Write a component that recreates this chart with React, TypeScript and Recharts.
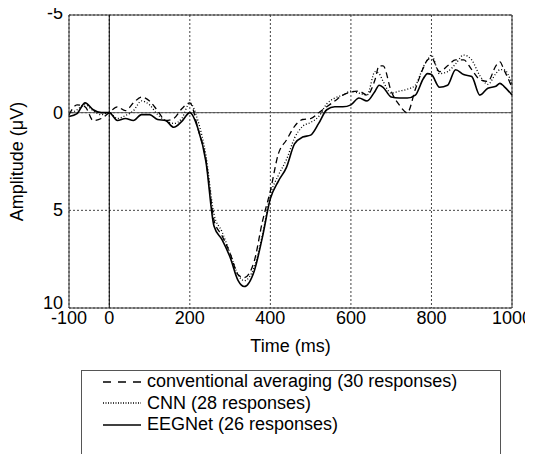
import { CartesianGrid, Line, LineChart, ReferenceLine, XAxis, YAxis } from 'recharts';

// time axis (ms) shared by the three averaged responses
const times = [
  -100, -80, -60, -40, -20, 0, 20, 40, 60, 80, 100, 120, 140, 160, 180, 200, 220, 240, 260, 280,
  300, 320, 335, 360, 380, 400, 420, 440, 460, 480, 500, 520, 540, 560, 580, 600, 620, 640, 660,
  670, 680, 700, 720, 740, 760, 780, 790, 800, 820, 840, 860, 880, 900, 920, 940, 960, 970, 980, 1000,
];

// amplitudes in μV (axis is drawn negative-up)
const conventional = [
  0.1, -0.4, -0.3, 0.4, 0.3, 0.0, -0.3, -0.1, -0.5, -0.8, -0.6, -0.1, 0.4, 0.3, -0.2, -0.5, 0.8, 2.4, 5.5, 6.3,
  7.2, 8.3, 8.45, 7.6, 5.6, 4.0, 2.1, 1.4, 0.7, 0.35, 0.3, 0.0, -0.3, -0.6, -0.9, -1.05, -1.1, -0.9, -1.7,
  -2.4, -2.4, -1.1, -0.4, 0.0, -1.2, -2.3, -2.7, -2.8, -2.1, -2.4, -2.7, -2.7, -2.2, -1.7, -1.6, -2.4, -2.6, -2.2, -1.3,
];
const cnn = [
  0.1, -0.15, -0.4, -0.1, 0.1, 0.0, 0.3, 0.15, -0.1, -0.6, -0.4, 0.1, 0.4, 0.55, 0.3, -0.5, 0.4, 2.2, 5.2, 6.1,
  7.2, 8.3, 8.6, 7.9, 6.3, 4.2, 3.2, 2.4, 1.3, 0.7, 0.5, 0.2, -0.45, -0.75, -0.9, -1.1, -1.0, -0.9, -2.1,
  -2.0, -1.6, -1.0, -1.1, -1.2, -1.4, -2.35, -2.7, -2.95, -2.0, -2.1, -2.5, -2.95, -2.7, -1.9, -1.45, -2.0, -2.2, -2.2, -1.45,
];
const eegnet = [
  0.2, 0.05, -0.5, -0.15, 0.0, 0.0, 0.4, 0.3, 0.4, 0.1, 0.1, 0.35, 0.4, 0.75, 0.45, 0.0, 0.8, 2.5, 5.8, 6.5,
  7.4, 8.6, 8.9, 8.1, 6.4, 4.4, 3.5, 2.8, 1.6, 1.25, 1.15, 0.55, -0.15, -0.3, -0.3, -0.4, -0.75, -0.6, -1.1,
  -1.4, -1.3, -0.8, -0.75, -0.75, -0.9, -1.75, -2.0, -1.95, -1.3, -1.4, -2.2, -1.95, -1.85, -0.9, -1.25, -1.35, -1.5, -1.35, -0.9,
];

const xTicks = [-100, 0, 200, 400, 600, 800, 1000];
const yTicks = [-5, 0, 5, 10];

const series = [
  { key: 'conv', label: 'conventional averaging (30 responses)', dash: '6 4', legendDash: '8 7', width: 1.3 },
  { key: 'cnn', label: 'CNN (28 responses)', dash: '1 2', legendDash: '1 1.5', width: 1.3 },
  { key: 'eeg', label: 'EEGNet (26 responses)', dash: undefined, legendDash: undefined, width: 1.6 },
];

const data = times.map((t, i) => ({ t, conv: conventional[i], cnn: cnn[i], eeg: eegnet[i] }));

const FONT = '"Liberation Sans", Arial, Helvetica, sans-serif';
const FS = 18;
const tickStyle = { fontSize: FS, fill: '#000', fontFamily: FONT };

// y tick labels; the end ones are nudged so "-5" sits like the original and "10" clears "-100"
const YTick = ({ x, y, payload }: any) => {
  const dy = payload.value === 10 ? 1 : payload.value === -5 ? 4 : 6;
  return (
    <text x={x} y={y} dy={dy} textAnchor="end" {...tickStyle}>
      {payload.value}
    </text>
  );
};

export default function App() {
  return (
    // pulled up over the body margin so the chart's own top margin has room for the "-5"
    <div
      style={{
        position: 'relative',
        width: 525,
        height: 454,
        marginTop: -8,
        overflow: 'hidden',
        fontFamily: FONT,
      }}
    >
      <LineChart width={525} height={360} data={data} margin={{ top: 15, right: 21, left: 0, bottom: 8 }}>
        <CartesianGrid stroke="#444" strokeDasharray="2 2" />
        <XAxis
          dataKey="t"
          type="number"
          domain={[-100, 1000]}
          ticks={xTicks}
          interval={0}
          height={44}
          tick={tickStyle}
          tickLine={false}
          tickSize={0}
          tickMargin={3}
          axisLine={{ stroke: '#333' }}
          label={{ value: 'Time (ms)', position: 'insideBottom', offset: 0, style: { fontSize: FS, fill: '#000', fontFamily: FONT } }}
        />
        <YAxis
          type="number"
          domain={[-5, 10]}
          ticks={yTicks}
          interval={0}
          reversed
          width={61}
          tick={<YTick />}
          tickLine={false}
          tickSize={0}
          tickMargin={6}
          axisLine={{ stroke: '#333' }}
          label={{
            value: 'Amplitude (μV)',
            angle: -90,
            position: 'insideLeft',
            offset: 9,
            style: { textAnchor: 'middle', fontSize: FS, fill: '#000', fontFamily: FONT },
          }}
        />
        <ReferenceLine y={-5} stroke="#333" />
        <ReferenceLine x={1000} stroke="#333" />
        <ReferenceLine y={0} stroke="#555" />
        <ReferenceLine x={0} stroke="#000" />
        {series.map((s) => (
          <Line
            key={s.key}
            dataKey={s.key}
            type="monotone"
            stroke="#000"
            strokeWidth={s.width}
            strokeDasharray={s.dash}
            dot={false}
            isAnimationActive={false}
          />
        ))}
      </LineChart>
      <div
        style={{
          position: 'absolute',
          left: 73,
          top: 370,
          width: 420,
          height: 120,
          border: '1px solid #555',
          boxSizing: 'border-box',
        }}
      >
        {series.map((s) => (
          <div key={s.key} style={{ display: 'flex', alignItems: 'center', height: 21.5, fontSize: FS }}>
            <svg width={38} height={10} style={{ marginLeft: 21, marginRight: 6 }}>
              <line x1={0} y1={5} x2={38} y2={5} stroke="#000" strokeWidth={s.width} strokeDasharray={s.legendDash} />
            </svg>
            <span>{s.label}</span>
          </div>
        ))}
      </div>
    </div>
  );
}
